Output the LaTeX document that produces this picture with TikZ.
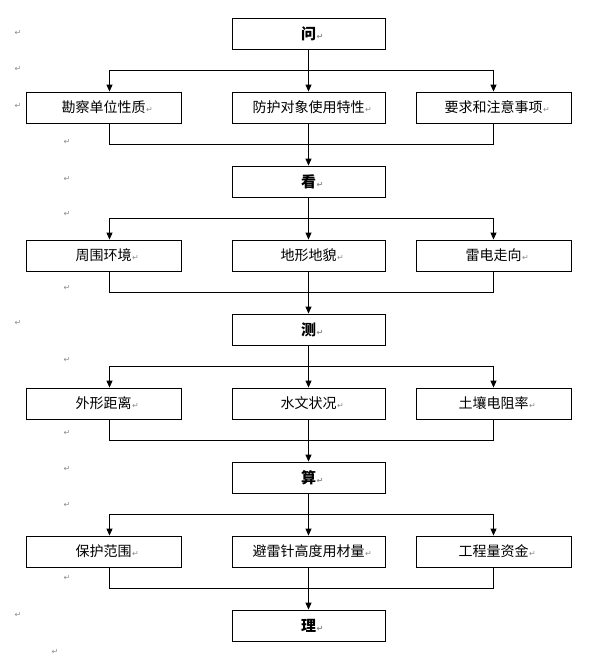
\documentclass[tikz,border=0pt]{standalone}
\usepackage{fontspec}
\newfontfamily\cjk{Noto Sans CJK SC}
\newfontfamily\symf{DejaVu Sans}
\usetikzlibrary{arrows.meta}
\newcommand{\parmk}{\textcolor{black!45}{\symf\fontsize{8}{8}\selectfont ↵}}
\newcommand{\tx}[1]{#1\rlap{\hspace{0.5pt}\parmk}}
\tikzset{
  box/.style={draw=black, line width=0.9pt, minimum height=31pt, inner sep=0pt, font=\cjk\fontsize{14}{15}\selectfont},
  wbox/.style={box, minimum width=155pt},
  mbox/.style={box, minimum width=153pt},
  hbox/.style={box, minimum width=153pt, font=\cjk\bfseries\fontsize{15}{16}\selectfont},
  ln/.style={draw=black, line width=0.9pt},
  arr/.style={ln, -{Triangle[width=6pt,length=7pt]}},
  pmark/.style={inner sep=0pt}
}
\begin{document}
\begin{tikzpicture}[x=1pt,y=-1pt]
\useasboundingbox[fill=white] (0,0) rectangle (608,667);
% heads
\node[hbox] (q) at (308.5,33.5) {\tx{问}};
\node[hbox] (k) at (308.5,181.5) {\tx{看}};
\node[hbox] (c) at (308.5,329.5) {\tx{测}};
\node[hbox] (s) at (308.5,477.5) {\tx{算}};
\node[hbox] (l) at (308.5,625.5) {\tx{理}};
% rows
\node[wbox] (r1l) at (103.5,107.5) {\tx{勘察单位性质}};
\node[mbox] (r1m) at (308.5,107.5) {\tx{防护对象使用特性}};
\node[wbox] (r1r) at (493.5,107.5) {\tx{要求和注意事项}};
\node[wbox] (r2l) at (103.5,255.5) {\tx{周围环境}};
\node[mbox] (r2m) at (308.5,255.5) {\tx{地形地貌}};
\node[wbox] (r2r) at (493.5,255.5) {\tx{雷电走向}};
\node[wbox] (r3l) at (103.5,403.5) {\tx{外形距离}};
\node[mbox] (r3m) at (308.5,403.5) {\tx{水文状况}};
\node[wbox] (r3r) at (493.5,403.5) {\tx{土壤电阻率}};
\node[wbox] (r4l) at (103.5,551.5) {\tx{保护范围}};
\node[mbox] (r4m) at (308.5,551.5) {\tx{避雷针高度用材量}};
\node[wbox] (r4r) at (493.5,551.5) {\tx{工程量资金}};
% branch / merge coordinates
\foreach \i/\by/\my in {1/70/144, 2/218/292, 3/366/440, 4/514/588}{
  \coordinate (bL\i) at (109.5,\by);
  \coordinate (bR\i) at (493.5,\by);
  \coordinate (mL\i) at (109.5,\my);
  \coordinate (mR\i) at (493.5,\my);
}
% connectors
\foreach \h/\i/\n in {q/1/k, k/2/c, c/3/s, s/4/l}{
  \draw[arr] (\h.south) -- (r\i m.north);
  \draw[ln] (bL\i) -- (bR\i);
  \draw[arr] (bL\i) -- (bL\i |- r\i l.north);
  \draw[arr] (bR\i) -- (bR\i |- r\i r.north);
  \draw[ln] (bL\i |- r\i l.south) -- (mL\i) -- (mR\i) -- (bR\i |- r\i r.south);
  \draw[arr] (r\i m.south) -- (\n.north);
}
% paragraph marks
\foreach \px/\py [count=\j] in {18/33, 18/69, 18/106, 67/142, 67/179, 67/214, 67/288, 18/323, 67/360, 67/433, 67/469, 67/505, 67/578, 18/615, 55/652}{
  \node[pmark] (pm\j) at (\px,\py) {\parmk};
}
\end{tikzpicture}
\end{document}
